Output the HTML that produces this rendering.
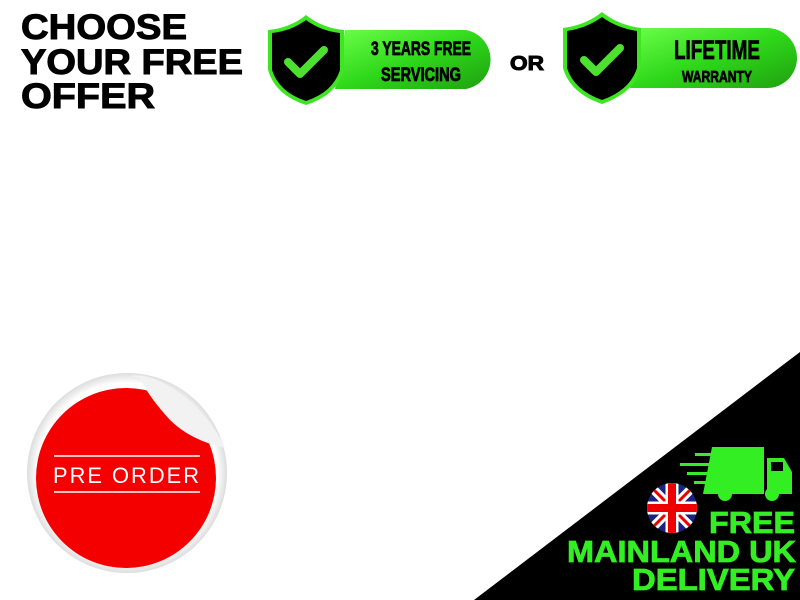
<!DOCTYPE html>
<html><head><meta charset="utf-8"><style>
html,body{margin:0;padding:0;background:#fff;width:800px;height:600px;overflow:hidden}
svg{display:block}
</style></head><body>
<svg width="800" height="600" viewBox="0 0 800 600" xmlns="http://www.w3.org/2000/svg" font-family="Liberation Sans, sans-serif">
<defs>
<linearGradient id="g" x1="0" x2="1" y1="0" y2="1"><stop offset="0" stop-color="#6cff4a"/><stop offset="0.5" stop-color="#2fd81a"/><stop offset="1" stop-color="#1fa010"/></linearGradient>
<radialGradient id="sh" cx="0.5" cy="0.5" r="0.5"><stop offset="0.9" stop-color="#fff"/><stop offset="1" stop-color="#ddd"/></radialGradient>
<clipPath id="fc"><circle cx="672" cy="508" r="25"/></clipPath>
</defs>
<g font-weight="bold" font-size="35" fill="#000" stroke="#000" stroke-width="1">
<text x="21" y="39" textLength="166" lengthAdjust="spacingAndGlyphs">CHOOSE</text>
<text x="21" y="74" textLength="222" lengthAdjust="spacingAndGlyphs">YOUR FREE</text>
<text x="21" y="108" textLength="134" lengthAdjust="spacingAndGlyphs">OFFER</text>
<text x="510" y="70" font-size="20" textLength="34" lengthAdjust="spacingAndGlyphs">OR</text>
</g>
<!-- badge 1 -->
<path d="M345 30 H466 A30 30 0 0 1 466 89 H335 Z" fill="url(#g)"/>
<path d="M306 15 Q290 28 268 30 V70 Q275 95 306 105 Q337 95 344 70 V30 Q322 28 306 15 Z" fill="#3ee622"/>
<path d="M306 20 Q291 31 272 33 V70 Q279 92 306 101 Q333 92 340 70 V33 Q321 31 306 20 Z" fill="#000"/>
<path d="M288 62 L300 74 L324 50" stroke="#4ee030" stroke-width="8" fill="none" stroke-linecap="round" stroke-linejoin="round"/>
<g stroke="#000" stroke-width="0.8" font-weight="bold" text-anchor="middle">
<text x="421" y="55" font-size="19" textLength="100" lengthAdjust="spacingAndGlyphs">3 YEARS FREE</text>
<text x="421" y="81" font-size="19" textLength="80" lengthAdjust="spacingAndGlyphs">SERVICING</text>
<text x="717" y="59" font-size="27" textLength="86" lengthAdjust="spacingAndGlyphs">LIFETIME</text>
<text x="717" y="82" font-size="16" textLength="70" lengthAdjust="spacingAndGlyphs">WARRANTY</text>
</g>
<!-- badge 2 -->
<path d="M641 28 H767 A30 30 0 0 1 767 88 H630 Z" fill="url(#g)"/>
<path d="M602 12 Q586 25 563 28 V68 Q570 93 602 104 Q634 93 641 68 V28 Q618 25 602 12 Z" fill="#3ee622"/>
<path d="M602 17 Q587 28 567 31 V68 Q574 90 602 100 Q630 90 637 68 V31 Q617 28 602 17 Z" fill="#000"/>
<path d="M584 60 L596 72 L620 48" stroke="#4ee030" stroke-width="8" fill="none" stroke-linecap="round" stroke-linejoin="round"/>
<!-- redraw badge2 text above -->
<g stroke="#000" stroke-width="0.8" font-weight="bold" text-anchor="middle">
<text x="717" y="59" font-size="27" textLength="86" lengthAdjust="spacingAndGlyphs">LIFETIME</text>
<text x="717" y="82" font-size="16" textLength="70" lengthAdjust="spacingAndGlyphs">WARRANTY</text>
</g>
<!-- sticker -->
<circle cx="127" cy="473" r="100" fill="url(#sh)"/>
<circle cx="126" cy="478" r="90" fill="#f50000"/>
<path d="M130 376 Q150 372 178 392 Q210 415 225 448 Q190 440 170 420 Q148 396 140 378 Z" fill="#f2f2f2"/>
<line x1="54" y1="456" x2="200" y2="456" stroke="#fff" stroke-width="1.5"/>
<line x1="54" y1="492" x2="200" y2="492" stroke="#fff" stroke-width="1.5"/>
<text x="127" y="483" font-size="22" fill="#fff" text-anchor="middle" textLength="148" lengthAdjust="spacingAndGlyphs" letter-spacing="2">PRE ORDER</text>
<!-- triangle -->
<path d="M800 352 L474 600 L800 600 Z" fill="#000"/>
<!-- truck -->
<g fill="#33ee22">
<path d="M712 447 H764 V494 H703 Z"/>
<path d="M767 458 H784 L792 472 V494 H767 Z"/>
<rect x="771" y="462" width="12" height="9" fill="#000"/>
<circle cx="725" cy="494" r="7"/><circle cx="772" cy="494" r="7"/>
<rect x="695" y="453" width="22" height="3"/><rect x="680" y="463" width="38" height="3"/><rect x="687" y="472" width="30" height="3"/><rect x="694" y="481" width="20" height="3"/>
</g>
<!-- flag -->
<g clip-path="url(#fc)">
<rect x="647" y="483" width="50" height="50" fill="#1a237e"/>
<path d="M647 483 L697 533 M697 483 L647 533" stroke="#fff" stroke-width="9"/>
<path d="M647 483 L697 533 M697 483 L647 533" stroke="#e00" stroke-width="3"/>
<path d="M672 483 V533 M647 508 H697" stroke="#fff" stroke-width="13"/>
<path d="M672 483 V533 M647 508 H697" stroke="#e00" stroke-width="8"/>
</g>
<g font-weight="bold" font-size="31" fill="#33ee22" stroke="#33ee22" stroke-width="0.8" text-anchor="end">
<text x="795" y="533" textLength="86" lengthAdjust="spacingAndGlyphs">FREE</text>
<text x="796" y="562" textLength="229" lengthAdjust="spacingAndGlyphs">MAINLAND UK</text>
<text x="795" y="590" textLength="163" lengthAdjust="spacingAndGlyphs">DELIVERY</text>
</g>
</svg>
</body></html>
